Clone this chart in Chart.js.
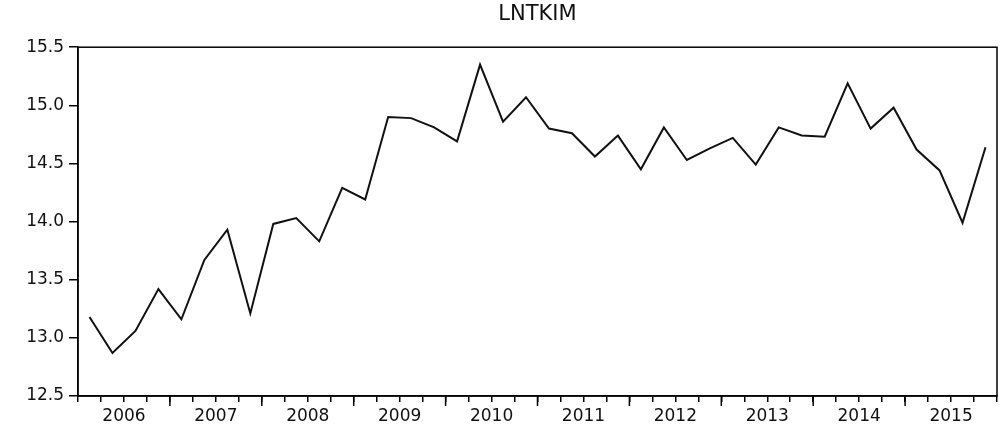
<!DOCTYPE html>
<html>
<head>
<meta charset="utf-8">
<script src="https://cdn.jsdelivr.net/npm/chart.js@4/dist/chart.umd.min.js"></script>
<style>
  body { margin: 0; background: #fff; }
  #wrap { width: 1001px; height: 435px; }
</style>
</head>
<body>
<div id="wrap"><canvas id="chart"></canvas></div>
<script>
const years = ['2006', '2007', '2008', '2009', '2010', '2011', '2012', '2013', '2014', '2015'];
const quarters = ['Q1', 'Q2', 'Q3', 'Q4'];

// LNTKIM, quarterly
const lntkim = [
  13.18, 12.87, 13.06, 13.42,
  13.16, 13.67, 13.93, 13.21,
  13.98, 14.03, 13.83, 14.29,
  14.19, 14.90, 14.89, 14.81,
  14.69, 15.35, 14.86, 15.07,
  14.80, 14.76, 14.56, 14.74,
  14.45, 14.81, 14.53, 14.63,
  14.72, 14.49, 14.81, 14.74,
  14.73, 15.19, 14.80, 14.98,
  14.62, 14.44, 13.99, 14.64,
];

const labels = [];
years.forEach(y => quarters.forEach(q => labels.push(y + q)));

const font = { family: '"DejaVu Sans", sans-serif', size: 17 };

// box around the plot + longer ticks at year boundaries
const framePlugin = {
  id: 'frame',
  afterDraw(chart) {
    const { ctx, chartArea: a, scales } = chart;
    ctx.save();
    ctx.strokeStyle = '#000';
    ctx.lineWidth = 1.5;
    ctx.strokeRect(a.left, a.top, a.right - a.left, a.bottom - a.top);
    const x = scales.x;
    for (let i = 4; i < labels.length; i += 4) {
      const px = (x.getPixelForTick(i - 1) + x.getPixelForTick(i)) / 2;
      ctx.beginPath();
      ctx.moveTo(px, a.bottom);
      ctx.lineTo(px, a.bottom + 10);
      ctx.stroke();
    }
    ctx.restore();
  },
};

new Chart(document.getElementById('chart'), {
  type: 'line',
  data: {
    labels: labels,
    datasets: [{
      label: 'LNTKIM',
      data: lntkim,
      borderColor: '#111',
      borderWidth: 2,
      pointRadius: 0,
      tension: 0,
      fill: false,
    }],
  },
  options: {
    responsive: true,
    maintainAspectRatio: false,
    animation: false,
    layout: { padding: { left: 0, right: 4, top: 0, bottom: 0 } },
    plugins: {
      legend: { display: false },
      tooltip: { enabled: false },
      title: {
        display: true,
        fullSize: false,
        text: 'LNTKIM',
        color: '#111',
        font: { family: font.family, size: 21, weight: 'normal' },
        padding: { top: 2, bottom: 20 },
      },
    },
    scales: {
      x: {
        type: 'category',
        offset: true,
        grid: {
          offset: true,
          drawOnChartArea: false,
          tickLength: 6,
          color: '#000',
          lineWidth: 1.5,
        },
        border: { display: true, color: '#000', width: 1.5 },
        ticks: {
          autoSkip: false,
          maxRotation: 0,
          color: '#111',
          font: font,
          padding: 4,
          labelOffset: 11.5,
          callback: (v, i) => (i % 4 === 1 ? years[Math.floor(i / 4)] : ''),
        },
        afterFit: s => { s.height = 39; },
      },
      y: {
        min: 12.5,
        max: 15.5,
        grid: {
          drawOnChartArea: false,
          tickLength: 9,
          color: '#000',
          lineWidth: 1.5,
        },
        border: { display: true, color: '#000', width: 1.5 },
        ticks: {
          stepSize: 0.5,
          color: '#111',
          font: font,
          padding: 5,
          callback: v => v.toFixed(1),
        },
        afterFit: s => { s.width = 78; },
      },
    },
  },
  plugins: [framePlugin],
});
</script>
</body>
</html>
